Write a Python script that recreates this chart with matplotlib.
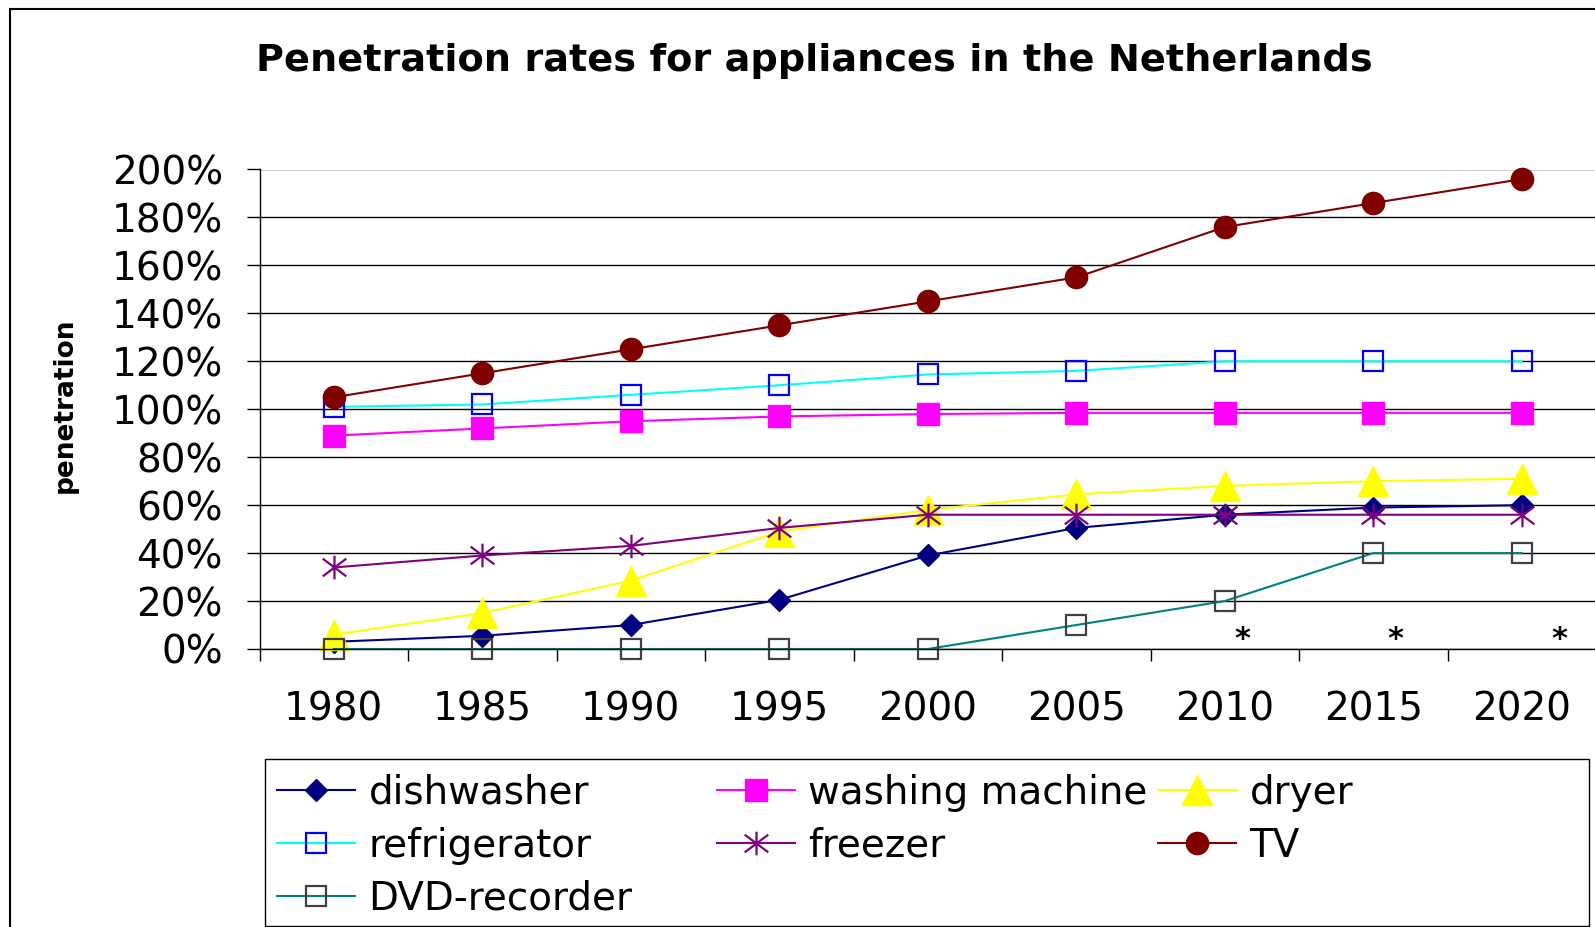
import matplotlib
matplotlib.use('Agg')
import matplotlib.pyplot as plt
from matplotlib.path import Path
from matplotlib.patches import Rectangle

# ---------------- data ----------------
years = ['1980', '1985', '1990', '1995', '2000', '2005', '2010', '2015', '2020']
dishwasher = [3, 5.5, 10, 20.5, 39, 50.5, 56, 59, 60]
washing_machine = [89, 92, 95, 97, 98, 98.5, 98.5, 98.5, 98.5]
dryer = [6, 15, 28.5, 49, 58, 64.5, 68, 70, 71]
refrigerator = [101, 102, 106, 110, 114.5, 116, 120, 120, 120]
freezer = [34, 39, 43, 50.5, 56, 56, 56, 56, 56]
tv = [105, 115, 125, 135, 145, 155, 176, 186, 196]
dvd_recorder = [0, 0, 0, 0, 0, 10, 20, 40, 40]
y_ticks = [0, 20, 40, 60, 80, 100, 120, 140, 160, 180, 200]
star_years = ['2010', '2015', '2020']
star_offsets = [0.12, 0.146, 0.25]

W, H = 1595, 927
fig = plt.figure(figsize=(W / 100, H / 100), dpi=100)
fig.patch.set_facecolor('white')

ax_left, ax_right, ax_top, ax_bottom = 259.5, 1596, 169.5, 649
ax = fig.add_axes([ax_left / W, 1 - ax_bottom / H,
                   (ax_right - ax_left) / W, (ax_bottom - ax_top) / H])

x = list(range(len(years)))

# asterisk marker (vertical line + X)
star_path = Path([(0, -1), (0, 1), (-1, -0.75), (1, 0.75), (-1, 0.75), (1, -0.75)],
                 [Path.MOVETO, Path.LINETO, Path.MOVETO, Path.LINETO, Path.MOVETO, Path.LINETO])

lw = 1.5
h_dish, = ax.plot(x, dishwasher, color='#000080', lw=lw, marker='D', markersize=11.5,
                  markerfacecolor='#000080', markeredgecolor='#000080', label='dishwasher', clip_on=False)
h_wash, = ax.plot(x, washing_machine, color='#FF00FF', lw=lw, marker='s', markersize=16,
                  markerfacecolor='#FF00FF', markeredgecolor='#FF00FF', label='washing machine', clip_on=False)
h_dry, = ax.plot(x, dryer, color='#FFFF00', lw=lw, marker='^', markersize=21,
                 markerfacecolor='#FFFF00', markeredgecolor='#FFFF00', label='dryer', clip_on=False)
h_fridge, = ax.plot(x, refrigerator, color='#00FFFF', lw=lw, marker='s', markersize=15,
                    markerfacecolor='none', markeredgecolor='#0000FF', markeredgewidth=1.6,
                    label='refrigerator', clip_on=False)
h_freez, = ax.plot(x, freezer, color='#800080', lw=lw, marker=star_path, markersize=17,
                   markeredgecolor='#800080', markeredgewidth=1.6, label='freezer', clip_on=False)
h_tv, = ax.plot(x, tv, color='#800000', lw=lw, marker='o', markersize=16,
                markerfacecolor='#800000', markeredgecolor='#800000', label='TV', clip_on=False)
h_dvd, = ax.plot(x, dvd_recorder, color='#008080', lw=lw, marker='s', markersize=15,
                 markerfacecolor='none', markeredgecolor='#404040', markeredgewidth=1.6,
                 label='DVD-recorder', clip_on=False)

# asterisks
for yr, off in zip(star_years, star_offsets):
    ax.text(years.index(yr) + off, 0.6, '*', fontsize=22, fontweight='bold',
            ha='center', va='baseline', clip_on=False)

# axes styling
ax.set_xlim(-0.5, len(years) - 0.5)
ax.set_ylim(0, 200)
ax.set_yticks(y_ticks)
ax.set_yticklabels([f'{v}%' for v in y_ticks])
ax.set_xticks(x)
ax.set_xticklabels(years)
ax.set_xticks([i - 0.5 for i in range(len(years) + 1)], minor=True)
ax.tick_params(axis='x', which='major', length=0, pad=30, labelsize=28)
ax.tick_params(axis='x', which='minor', length=8.6, width=1, color='black')
ax.tick_params(axis='y', length=9.4, width=1, pad=17, labelsize=28, color='black')
ax.yaxis.grid(True, color='black', lw=1)
ax.set_axisbelow(True)
for s in ['top', 'right']:
    ax.spines[s].set_visible(False)
for s in ['left', 'bottom']:
    ax.spines[s].set_color('black')
    ax.spines[s].set_linewidth(1)

# title and y label
fig.text(814 / W, 1 - 61 / H, 'Penetration rates for appliances in the Netherlands',
         fontsize=27.5, fontweight='bold', ha='center', va='center')
fig.text(65 / W, 1 - 405 / H, 'penetration', rotation=90, fontsize=19,
         fontweight='bold', ha='center', va='center')

# legend (three columns)
cols = [([h_dish, h_fridge, h_dvd], 277),
        ([h_wash, h_freez], 717),
        ([h_dry, h_tv], 1158)]
for handles, xpx in cols:
    fig.legend(handles=handles, loc='upper left',
               bbox_to_anchor=(xpx / W, 1 - 774 / H), bbox_transform=fig.transFigure,
               frameon=False, borderpad=0, borderaxespad=0, handlelength=2.0,
               handletextpad=0.35, labelspacing=0.38, fontsize=28)
fig.add_artist(Rectangle((265 / W, 1 - 926 / H), (1589 - 265) / W, (926 - 759) / H,
                         transform=fig.transFigure, fill=False, ec='black', lw=1))

# outer border
fig.add_artist(Rectangle((10 / W, -0.05), 1.1, 1.05 - 9 / H,
                         transform=fig.transFigure, fill=False, ec='black', lw=1.5))

fig.savefig('out.png', dpi=100)
